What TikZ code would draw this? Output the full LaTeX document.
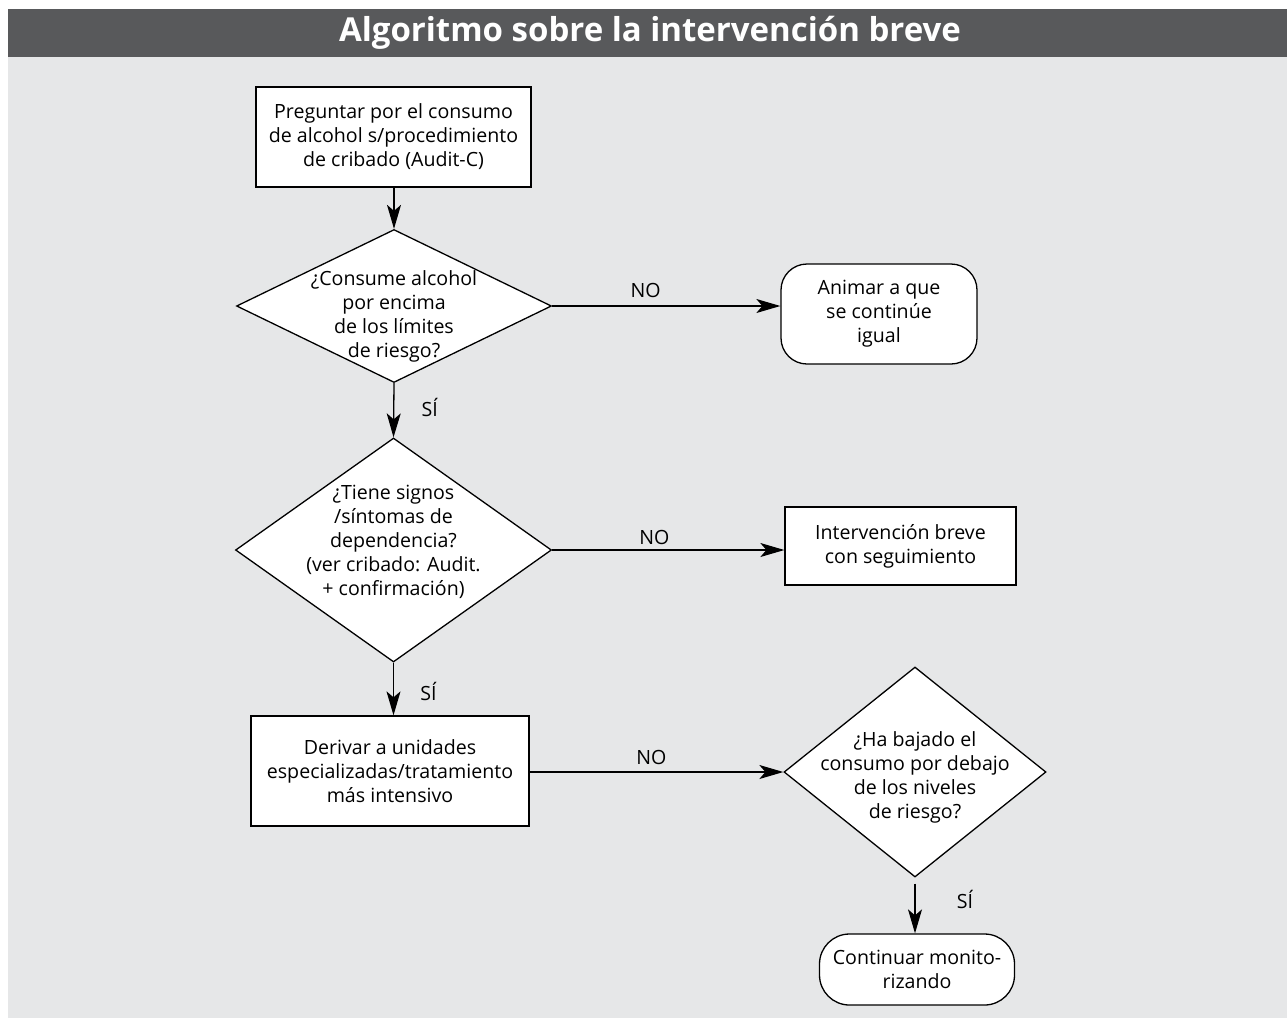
\documentclass[tikz,border=0pt]{standalone}
\usepackage{fontspec}
\setmainfont{Open Sans}
\usetikzlibrary{shapes.geometric,arrows.meta}
\definecolor{bardark}{HTML}{58595B}
\definecolor{panelgrey}{HTML}{E6E7E8}
\begin{document}
\begin{tikzpicture}[x=1pt,y=-1pt,
  every node/.style={font=\fontsize{19.6}{24}\selectfont, inner sep=0pt},
  box/.style={draw, fill=white, line width=1.3pt, align=center},
  rbox/.style={box, rounded corners=26pt},
  dia/.style={draw, fill=white, line width=1.3pt, diamond, inner sep=0pt},
  txt/.style={align=center},
  arr/.style={line width=1.3pt, -{Stealth[length=24pt,width=14pt,inset=6pt]}},
  lbl/.style={font=\fontsize{19.6}{24}\selectfont},
  titlestyle/.style={text=white, font=\fontsize{33}{38}\bfseries\selectfont}
]
\useasboundingbox (0,0) rectangle (1287,1018);
\fill[panelgrey] (8,9) rectangle (1287,1018);
\fill[bardark] (8,9) rectangle (1287,57);
\node[titlestyle] (title) at (650,33) {Algoritmo sobre la intervención breve};

% nodes
\node[box, minimum width=275pt, minimum height=100pt] (b1) at (393.5,137)
  {Preguntar por el consumo\\de alcohol s/procedimiento\\de cribado (Audit-C)};
\node[dia, minimum width=315pt, minimum height=153pt] (d1) at (394,306) {};
\node[txt] (t1) at (394,316) {¿Consume alcohol\\por encima\\de los límites\\de riesgo?};
\node[rbox, minimum width=196pt, minimum height=100pt] (r1) at (879,314)
  {Animar a que\\se continúe\\igual};

\node[dia, minimum width=316pt, minimum height=224pt] (d2) at (393.5,550) {};
\node[txt] (t2) at (393.5,542) {¿Tiene signos\\/síntomas de\\dependencia?\\(ver cribado: Audit.\\+ confirmación)};
\node[box, minimum width=231pt, minimum height=78pt] (b2) at (900.5,546)
  {Intervención breve\\con seguimiento};

\node[box, minimum width=278pt, minimum height=110pt] (b3) at (390,771)
  {Derivar a unidades\\especializadas/tratamiento\\más intensivo};
\node[dia, minimum width=262pt, minimum height=210pt] (d3) at (915,772) {};
\node[txt] (t3) at (915,777) {¿Ha bajado el\\consumo por debajo\\de los niveles\\de riesgo?};
\node[rbox, rounded corners=30pt, minimum width=195pt, minimum height=71pt] (r2) at (917,969.5)
  {Continuar monito-\\rizando};

% connectors
\draw[arr] (b1.south -| d1.north) -- (d1.north);
\draw[arr] (d1.east) -- (d1.east -| r1.west) node[lbl, pos=0.41, yshift=16pt] (no1) {NO};
\draw[arr] (d1.south) -- (d2.north) node[lbl, pos=0.45, xshift=36pt] (si1) {SÍ};
\draw[arr] (d2.east) -- (d2.east -| b2.west) node[lbl, pos=0.44, yshift=13pt] (no2) {NO};
\draw[arr] (d2.south) -- (d2.south |- b3.north) node[lbl, pos=0.55, xshift=35pt] (si2) {SÍ};
\draw[arr] (b3.east |- d3.west) -- (d3.west) node[lbl, pos=0.48, yshift=15pt] (no3) {NO};
\draw[arr, shorten <=6pt] (d3.south) -- (d3.south |- r2.north) node[lbl, pos=0.4, xshift=50pt] (si3) {SÍ};
\end{tikzpicture}
\end{document}
